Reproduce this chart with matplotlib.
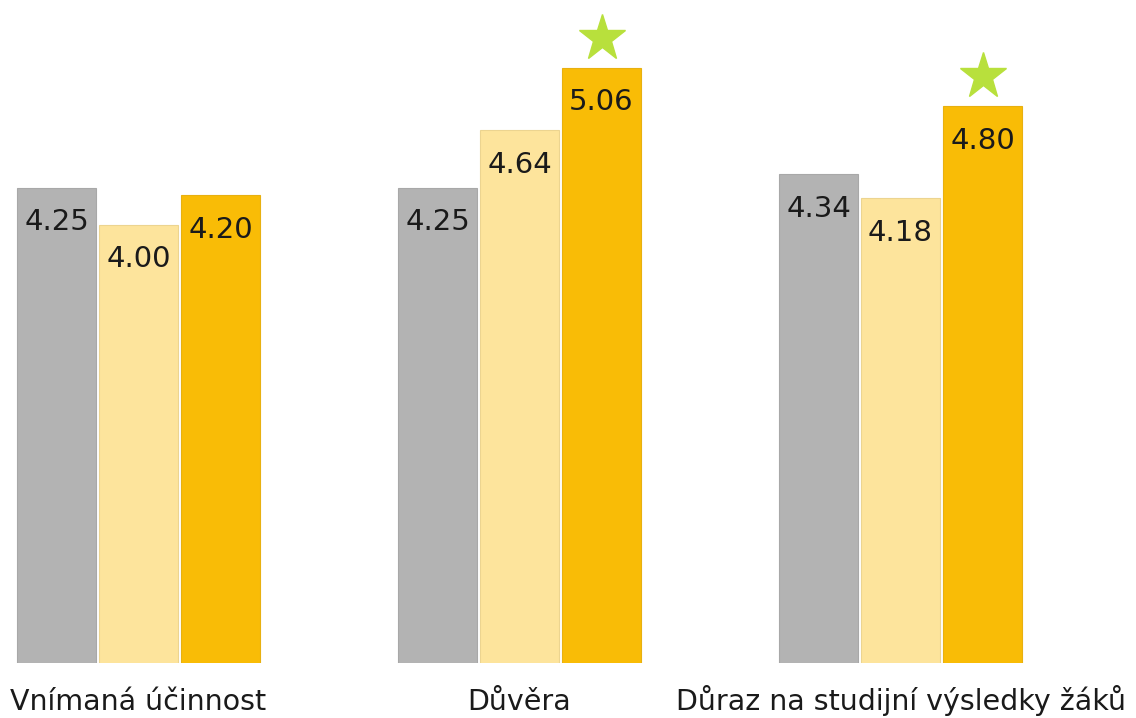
import matplotlib.pyplot as plt
import numpy as np
from matplotlib.transforms import offset_copy

# data
categories = ['Vnímaná účinnost', 'Důvěra', 'Důraz na studijní výsledky žáků']
series1 = [4.25, 4.25, 4.34]
series2 = [4.00, 4.64, 4.18]
series3 = [4.20, 5.06, 4.80]
starred = [False, True, True]  # marks on series3

colours = ['#b3b3b3', '#fde49c', '#f9bc06']
edges = ['#a8a8a8', '#ecd490', '#e8b010']

fig = plt.figure(figsize=(11.36, 7.18), dpi=100)
ax = fig.add_axes([0, 55 / 718, 1, 663 / 718])

x = np.arange(len(categories))
step = 82 / 381
width = 79 / 381
for k, (vals, c, e) in enumerate(zip([series1, series2, series3], colours, edges)):
    xs = x + (k - 1) * step
    ax.bar(xs, vals, width=width, color=c, edgecolor=e, linewidth=0.8)
    for xi, v in zip(xs, vals):
        ax.annotate('%.2f' % v, (xi, v), xytext=(0, -25), textcoords='offset points',
                    ha='center', va='center', fontsize=21, color='#1a1a1a')

star_tr = offset_copy(ax.transData, fig=fig, x=0, y=21.5, units='points')
for xi, v, s in zip(x + step, series3, starred):
    if s:
        ax.plot(xi, v, marker='*', markersize=35, color='#b8e03c',
                transform=star_tr, clip_on=False)

ax.set_xlim(-138.5 / 381, (1136 - 138.5) / 381)
ax.set_ylim(1.04, 1.04 + 663 / 148.1)
ax.set_xticks(x)
ax.set_xticklabels(categories, fontsize=20.5, color='#1a1a1a', va='baseline')
ax.tick_params(axis='x', length=0, pad=34)
ax.set_yticks([])
for sp in ax.spines.values():
    sp.set_visible(False)

fig.savefig('out.png', dpi=100)
